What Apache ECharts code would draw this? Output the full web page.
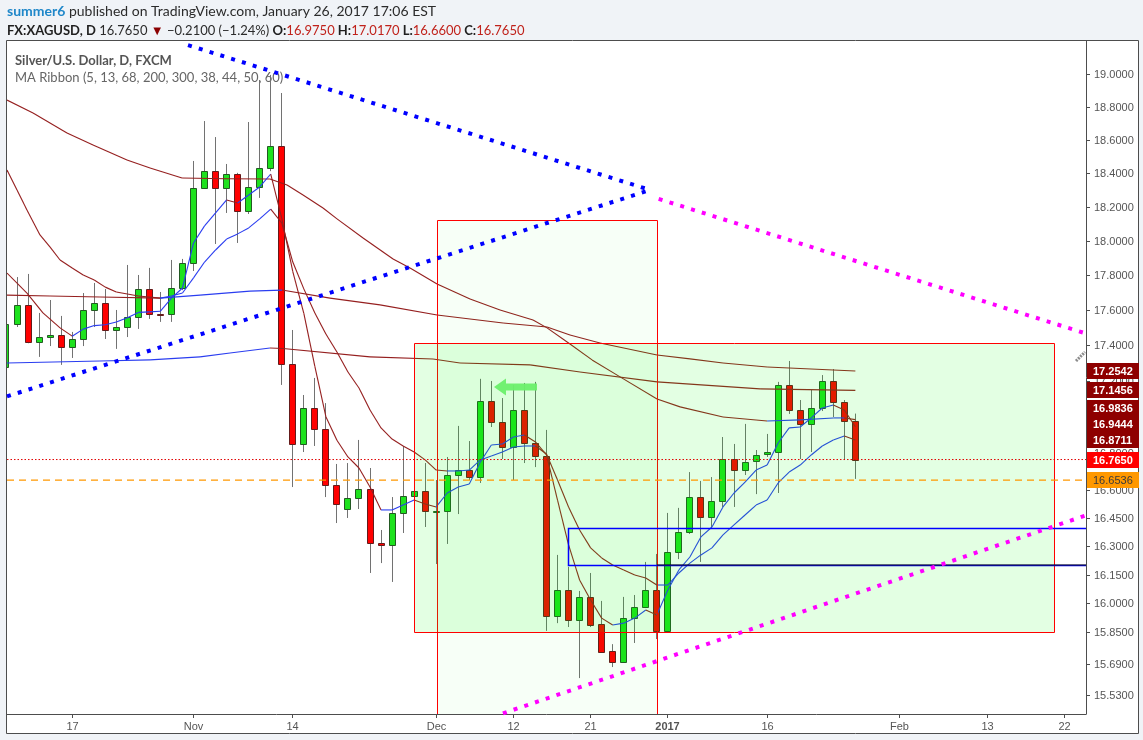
<!DOCTYPE html>
<html><head><meta charset="utf-8">
<script src="https://cdn.jsdelivr.net/npm/echarts@6/dist/echarts.min.js"></script>
<style>html,body{margin:0;padding:0;background:#f0f3f7;}#c{width:1143px;height:740px;}</style>
</head><body><div id="c"></div>
<script>
// ---------- axis ranges (bar index / price, log scale) ----------
const XMIN = 0.0907, XMAX = 97.91;
const YMIN = 15.436, YMAX = 19.2045;

// ---------- daily candles, index 0 = 7 Oct 2016 ... index 77 = 26 Jan 2017 ----------
const openP = [17.276,17.519,17.628,17.417,17.445,17.457,17.389,17.434,17.599,17.639,
17.485,17.502,17.559,17.719,17.576,17.576,17.725,17.870,18.310,18.411,
18.310,18.393,18.173,18.316,18.429,18.561,17.293,16.850,17.048,16.932,
16.627,16.498,16.557,16.605,16.317,16.307,16.477,16.568,16.595,16.482,
16.487,16.681,16.708,16.670,17.086,16.971,16.833,17.037,16.855,16.784,
15.935,16.070,15.914,16.034,15.893,15.755,15.699,15.924,15.982,16.070,
15.858,16.269,16.375,16.562,16.455,16.541,16.768,16.708,16.757,16.795,
16.806,17.176,17.037,16.960,17.048,17.198,17.081,16.975];
const highP = [17.553,17.788,17.806,17.582,17.656,17.565,17.474,17.696,17.754,17.719,
17.599,17.858,17.800,17.841,17.702,17.887,17.893,18.471,18.712,18.615,
18.453,18.400,18.706,18.963,18.994,18.883,17.485,17.120,17.215,17.075,
16.741,16.746,16.872,16.719,16.386,16.562,16.839,16.703,16.746,16.654,
16.779,16.949,16.866,17.210,17.198,17.103,17.176,17.187,17.193,16.927,
16.254,16.191,16.065,16.159,16.013,15.790,16.034,16.044,16.217,16.259,
16.477,16.504,16.697,16.649,16.670,16.888,16.850,16.960,16.817,16.905,
17.193,17.310,17.092,17.148,17.231,17.265,17.092,17.017];
const lowP = [17.248,17.502,17.410,17.333,17.394,17.288,17.327,17.394,17.502,17.434,
17.378,17.445,17.491,17.548,17.531,17.531,17.713,17.823,18.305,17.980,
18.162,17.986,18.156,18.251,18.410,17.176,16.616,16.806,16.839,16.562,
16.423,16.450,16.498,16.159,16.211,16.112,16.370,16.402,16.402,16.206,
16.312,16.471,16.654,16.638,16.943,16.768,16.654,16.746,16.724,15.858,
15.898,15.878,15.617,15.878,15.745,15.673,15.694,15.796,15.976,15.816,
15.855,16.232,16.365,16.217,16.402,16.509,16.509,16.681,16.578,16.779,
16.584,17.015,16.768,16.806,17.031,16.998,16.763,16.660];
const closeP = [17.519,17.628,17.417,17.445,17.457,17.389,17.434,17.599,17.639,17.485,
17.502,17.559,17.719,17.576,17.571,17.725,17.870,18.310,18.411,18.310,
18.393,18.173,18.316,18.429,18.561,17.293,16.850,17.048,16.932,16.627,
16.525,16.557,16.605,16.317,16.307,16.477,16.568,16.595,16.487,16.487,
16.681,16.708,16.670,17.086,16.971,16.833,17.037,16.855,16.784,15.935,
16.070,15.914,16.034,15.888,15.750,15.699,15.924,15.982,16.070,15.858,
16.269,16.375,16.562,16.455,16.541,16.768,16.708,16.752,16.790,16.806,
17.176,17.037,16.960,17.048,17.198,17.081,16.975,16.765];

// ---------- MA ribbon lines: [bar index, price] ----------
const ma5 = [[0.09,17.811],[1.9,17.696],[3.35,17.582],[4.9,17.497],[6,17.45],[7,17.49],[8,17.51],[9,17.515],[10,17.53],[11,17.555],
[12,17.585],[13,17.588],[14,17.592],[15,17.667],[16,17.725],[17,17.986],[18,18.086],[19,18.162],[20,18.239],[21,18.221],
[22,18.268],[23,18.316],[24,18.393],[25,18.13],[26,17.82],[27,17.58],[28,17.28],[29,17.00],[30,16.87],[31,16.779],
[32,16.719],[33,16.616],[34,16.493],[35,16.493],[36,16.519],[37,16.546],[38,16.525],[39,16.509],[40,16.584],[41,16.616],
[42,16.632],[43,16.752],[44,16.844],[45,16.850],[46,16.888],[47,16.899],[48,16.861],[49,16.790],[50,16.546],[51,16.307],
[52,16.122],[53,16.018],[54,15.924],[55,15.888],[56,15.898],[57,15.924],[58,15.966],[59,15.940],[60,16.070],[61,16.175],
[62,16.243],[63,16.349],[64,16.402],[65,16.509],[66,16.584],[67,16.643],[68,16.708],[69,16.735],[70,16.855],[71,16.938],
[72,16.943],[73,16.993],[74,17.048],[75,17.064],[76,17.037],[77,16.9444]];
const ma13 = [[0.09,18.417],[1,18.298],[1.9,18.179],[3.08,18.033],[4,17.962],[4.9,17.887],[6,17.840],[7,17.800],[8,17.771],[9,17.730],
[10,17.702],[11,17.690],[12,17.679],[13,17.673],[14,17.667],[15,17.679],[16,17.696],[17,17.783],[18,17.875],[19,17.945],
[20,18.009],[21,18.039],[22,18.074],[23,18.127],[24,18.185],[25,18.103],[26,17.875],[27,17.720],[28,17.582],[29,17.462],
[30,17.361],[31,17.248],[32,17.159],[33,17.037],[34,16.938],[35,16.877],[36,16.839],[37,16.806],[38,16.763],[39,16.708],
[40,16.703],[41,16.703],[42,16.708],[43,16.763],[44,16.784],[45,16.806],[46,16.833],[47,16.839],[48,16.839],[49,16.795],
[50,16.654],[51,16.509],[52,16.386],[53,16.291],[54,16.238],[55,16.201],[56,16.175],[57,16.148],[58,16.133],[59,16.096],
[60,16.096],[61,16.159],[62,16.211],[63,16.254],[64,16.291],[65,16.360],[66,16.413],[67,16.466],[68,16.519],[69,16.546],
[70,16.638],[71,16.697],[72,16.735],[73,16.790],[74,16.839],[75,16.872],[76,16.894],[77,16.8711]];
const maMid = [[0.09,18.840],[2.45,18.761],[5.53,18.640],[7.89,18.567],[10.97,18.477],[13.06,18.429],[15.96,18.369],[19.95,18.365],[23.93,18.363],[25.48,18.328],
[26.93,18.268],[28.74,18.191],[30.01,18.127],[32.37,18.015],[35.09,17.893],[36.63,17.840],[39.08,17.748],[42.07,17.662],[44.79,17.599],[47.78,17.542],
[49.05,17.497],[51.13,17.406],[53.13,17.316],[55.67,17.221],[59.02,17.098],[61.11,17.054],[65,16.998],[69,16.976],[72,16.982],[75,16.993],[76,16.993],[77,16.9836]];
const ma200 = [[0.09,17.684],[3.99,17.679],[8.52,17.673],[13.96,17.667],[17.59,17.684],[22.12,17.707],[25.02,17.713],[29.37,17.667],[33.91,17.628],[39.08,17.570],
[45.06,17.525],[49.05,17.502],[51.13,17.457],[53.85,17.411],[59.02,17.344],[62.01,17.322],[65,17.299],[69,17.276],[77,17.2542]];
const ma300 = [[0.09,17.299],[8.52,17.310],[13.06,17.316],[17.59,17.333],[20.31,17.355],[23.93,17.383],[25.11,17.380],[33,17.333],[38.71,17.321],[41.16,17.299],
[47.51,17.288],[52.04,17.248],[59.02,17.193],[68.36,17.154],[77,17.1456]];

// ---------- axis labels ----------
const yTicks = [19.0,18.8,18.6,18.4,18.2,18.0,17.8,17.6,17.4,17.2,16.8,16.6,16.45,16.3,16.15,16.0,15.85,15.69,15.53];
const xTickIdx = [6,17,26,39,46,53,60,69,81,89,96];
const xTickText = ['17','Nov','14','Dec','12','21','2017','16','Feb','13','22'];

// ---------- price tags on the scale ----------
const tagValues = [17.2542,17.1456,16.9836,16.9444,16.8711,16.7650,16.6536];
const tagBg = ['#8e0000','#8e0000','#8e0000','#8e0000','#8e0000','#ff0000','#ff9800'];
const tagFg = ['#fff','#fff','#fff','#fff','#fff','#fff','#3a3a3a'];

// ---------- drawings ----------
const lineBlueUp = [[0.0907,17.112],[58.39,18.298]];
const lineBlueDown = [[16.5,19.179],[58.39,18.298]];
const lineMagDown = [[59.17,18.245],[97.91,17.465]];
const lineMagUp = [[45.05,15.439],[97.91,16.464]];
const lineBlack = [[59.02,16.201],[97.91,16.201]];
const lastPrice = 16.7650;
const levelOrange = 16.6536;
const boxes = [[39.08,18.121,59.02,15.0],[36.99,17.409,95.01,15.850],[50.95,16.397,110,16.201]];
const boxStroke = ['#ff0000','#ff0000','#0000ff'];
const boxFill = ['rgba(0,255,0,0.03)','rgba(0,255,0,0.11)','rgba(0,0,0,0)'];
const boxWidth = [1,1,1.5];
const arrowDef = [48.14,17.165,44.24];

const BLUE = '#2a3df0', DRED = '#951f1f';
const chart = echarts.init(document.getElementById('c'), null, {renderer:'canvas'});

function clipOf(params){
  const cs = params.coordSys;
  return {type:'rect', shape:{x:cs.x, y:cs.y, width:cs.width, height:cs.height}};
}
function maSeries(pts){
  return {type:'custom', z:3, silent:true, animation:false, data: pts,
    renderItem(params, api){
      const k = params.dataIndex; if(k===0) return null;
      const a = api.coord(pts[k-1]), b = api.coord(pts[k]);
      const col = pts[k][1] >= pts[k-1][1] ? BLUE : DRED;
      return {type:'group', clipPath: clipOf(params), children:[
        {type:'line', shape:{x1:a[0],y1:a[1],x2:b[0],y2:b[1]}, style:{stroke:col, lineWidth:1.1}}]};
    }};
}
function trend(pts, color){
  return {type:'line', data:pts, symbol:'none', silent:true, animation:false, z:5, clip:true,
    lineStyle:{color:color, width:4, type:[4,7.3], cap:'butt'}};
}

const option = {
  animation:false,
  backgroundColor:'#f0f3f7',
  grid:{left:7, right:57, top:41, bottom:26, containLabel:false},
  xAxis:{type:'value', min:XMIN, max:XMAX, axisLine:{show:true, onZero:false, lineStyle:{color:'#4d4d4d'}},
    axisTick:{show:false}, axisLabel:{show:false}, splitLine:{show:false}},
  yAxis:{type:'log', logBase:10, min:YMIN, max:YMAX, position:'right',
    axisLine:{show:true, lineStyle:{color:'#4d4d4d'}}, axisTick:{show:false}, axisLabel:{show:false}, splitLine:{show:false}},
  graphic:[
    {type:'rect', z:-10, shape:{x:6.5, y:40.5, width:1132, height:693}, style:{fill:'#ffffff', stroke:'#4d4d4d', lineWidth:1}},
    {type:'text', x:7, y:4, style:{text:'{u|summer6}{t| published on TradingView.com, January 26, 2017 17:06 EST}',
      rich:{u:{fill:'#1f87c9', font:'bold 14px Lato'}, t:{fill:'#2b2b2b', font:'14px Lato'}}}},
    {type:'text', x:7, y:24, style:{text:'{b|FX:XAGUSD, D}{t| 16.7650 }{r|▼}{t| −0.2100 (−1.24%) }{b|O:}{v|16.9750}{b| H:}{v|17.0170}{b| L:}{v|16.6600}{b| C:}{v|16.7650}',
      rich:{b:{fill:'#1f1f1f', font:'bold 13px Lato'}, t:{fill:'#2b2b2b', font:'13px Lato'}, r:{fill:'#8b0000', font:'13px Lato'}, v:{fill:'#c0221b', font:'13px Lato'}}}},
    {type:'text', x:15, y:54, z:1, style:{text:'Silver/U.S. Dollar, D, FXCM', fill:'#555', font:'bold 13px Lato'}},
    {type:'text', x:15, y:71, z:1, style:{text:'MA Ribbon (5, 13, 68, 200, 300, 38, 44, 50, 60)', fill:'#666', font:'13px Lato'}},
    {type:'line', z:20, shape:{x1:1076, y1:361, x2:1085, y2:352}, style:{stroke:'#8c8c8c', lineWidth:3, lineDash:[2,1]}}
  ],
  series:[
    // candles
    {type:'custom', z:2, silent:true, animation:false,
      data: openP.map((o,i)=>[i,o,closeP[i],lowP[i],highP[i]]),
      renderItem(params, api){
        const i=api.value(0), o=api.value(1), c=api.value(2), l=api.value(3), h=api.value(4);
        const pO=api.coord([i,o]), pC=api.coord([i,c]), pL=api.coord([i,l]), pH=api.coord([i,h]);
        const x=Math.floor(pO[0]);
        const up=c>=o;
        const top=Math.round(Math.min(pO[1],pC[1])), bot=Math.round(Math.max(pO[1],pC[1]));
        const hh=Math.max(bot-top,1);
        return {type:'group', clipPath: clipOf(params), children:[
          {type:'line', shape:{x1:x+0.5,y1:pH[1],x2:x+0.5,y2:pL[1]}, style:{stroke:'#727272', lineWidth:1}},
          {type:'rect', shape:{x:x-2.5, y:top+0.5, width:6, height:hh}, style:{fill:up?'#1ee21e':'#ff0000', stroke:up?'#235a23':'#641b1b', lineWidth:1}}
        ]};
      }},
    maSeries(maMid), maSeries(ma200), maSeries(ma300), maSeries(ma13), maSeries(ma5),
    // rectangles
    {type:'custom', z:4, silent:true, animation:false, data: boxes,
      renderItem(params, api){
        const b=boxes[params.dataIndex];
        const p1=api.coord([b[0],b[1]]), p2=api.coord([b[2],b[3]]);
        const x=Math.round(p1[0])+0.5, y=Math.round(p1[1])+0.5;
        return {type:'group', clipPath: clipOf(params), children:[
          {type:'rect', shape:{x:x, y:y, width:Math.round(p2[0]-p1[0]), height:Math.round(p2[1]-p1[1])},
           style:{fill:boxFill[params.dataIndex], stroke:boxStroke[params.dataIndex], lineWidth:boxWidth[params.dataIndex]}}]};
      }},
    // black horizontal ray
    {type:'line', z:5, silent:true, animation:false, symbol:'none', data:lineBlack,
      lineStyle:{color:'#111111', width:1}},
    // horizontal levels
    {type:'line', z:5, silent:true, animation:false, symbol:'none', data:[[XMIN,lastPrice],[XMAX,lastPrice]],
      lineStyle:{color:'#e00000', width:1, type:[1.5,2]}},
    {type:'line', z:5, silent:true, animation:false, symbol:'none', data:[[XMIN,levelOrange],[XMAX,levelOrange]],
      lineStyle:{color:'#ff9800', width:1.2, type:[7,5]}},
    trend(lineBlueUp,'#0000ff'), trend(lineBlueDown,'#0000ff'), trend(lineMagDown,'#ff00ff'), trend(lineMagUp,'#ff00ff'),
    // arrow
    {type:'custom', z:6, silent:true, animation:false, data:[arrowDef],
      renderItem(params, api){
        const t=api.coord([arrowDef[0],arrowDef[1]]), h=api.coord([arrowDef[2],arrowDef[1]]);
        const y=t[1], hx=h[0], tx=t[0];
        return {type:'polygon', shape:{points:[[hx,y],[hx+12,y-8.5],[hx+12,y-3.5],[tx,y-3.5],[tx,y+3.5],[hx+12,y+3.5],[hx+12,y+8.5]]},
          style:{fill:'#6cf06c', opacity:0.95}};
      }},
    // y tick labels
    {type:'custom', z:7, silent:true, animation:false, data: yTicks.map(v=>[XMAX,v]),
      renderItem(params, api){
        const v=yTicks[params.dataIndex]; const p=api.coord([XMAX,v]);
        const yy=Math.round(p[1])+0.5;
        return {type:'group', children:[
          {type:'line', shape:{x1:p[0],y1:yy,x2:p[0]+4,y2:yy}, style:{stroke:'#4d4d4d', lineWidth:1}},
          {type:'text', x:p[0]+8, y:yy, style:{text:v.toFixed(4), fill:'#555', font:'11px "Liberation Sans", Arial', textAlign:'left', textVerticalAlign:'middle', align:'left', verticalAlign:'middle'}}
        ]};
      }},
    // x tick labels
    {type:'custom', z:7, silent:true, animation:false, data: xTickIdx.map(i=>[i,YMIN]),
      renderItem(params, api){
        const k=params.dataIndex; const p=api.coord([xTickIdx[k],YMIN]);
        const xx=Math.floor(p[0])+0.5;
        return {type:'group', children:[
          {type:'line', shape:{x1:xx,y1:p[1],x2:xx,y2:p[1]+4}, style:{stroke:'#4d4d4d', lineWidth:1}},
          {type:'text', x:xx, y:p[1]+13, style:{text:xTickText[k], fill:'#555', font:(xTickText[k]==='2017'?'bold ':'')+'11px "Liberation Sans", Arial', textAlign:'center', textVerticalAlign:'middle', align:'center', verticalAlign:'middle'}}
        ]};
      }},
    // price tags
    {type:'custom', z:8, silent:true, animation:false, data: tagValues.map(v=>[XMAX,v]),
      renderItem(params, api){
        const H=16;
        const ys=tagValues.map(v=>api.coord([XMAX,v])[1]);
        const order=ys.map((y,i)=>i).sort((a,b)=>ys[b]-ys[a]);
        const pos=ys.slice(); let prev=null;
        order.forEach(i=>{ let y=ys[i]; if(prev!==null && y>prev-H) y=prev-H; pos[i]=y; prev=y; });
        const k=params.dataIndex; const x0=api.coord([XMAX,tagValues[k]])[0];
        const yc=pos[k];
        return {type:'group', children:[
          {type:'rect', shape:{x:x0+1, y:Math.round(yc-H/2), width:52, height:H}, style:{fill:tagBg[k]}},
          {type:'text', x:x0+7, y:Math.round(yc)+0.5, style:{text:tagValues[k].toFixed(4), fill:tagFg[k], font:(k===6?'':'bold ')+'11px "Liberation Sans", Arial', textAlign:'left', textVerticalAlign:'middle', align:'left', verticalAlign:'middle'}}
        ]};
      }}
  ]
};
chart.setOption(option);
</script></body></html>
